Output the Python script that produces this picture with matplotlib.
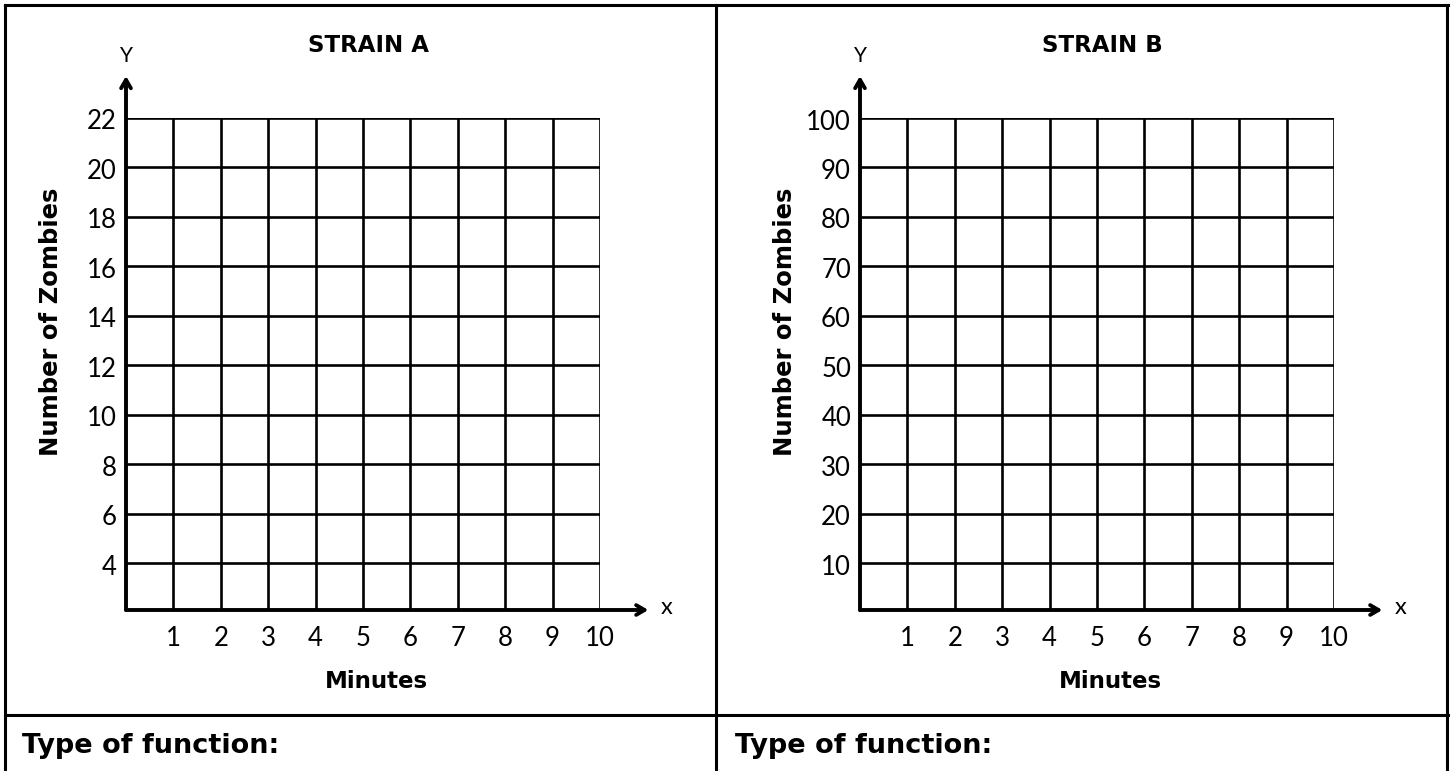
import matplotlib
matplotlib.use("Agg")
import matplotlib.pyplot as plt
from matplotlib.lines import Line2D

# ---- data ----
minutes = [1, 2, 3, 4, 5, 6, 7, 8, 9, 10]
strain_a_yticks = [4, 6, 8, 10, 12, 14, 16, 18, 20, 22]
strain_b_yticks = [10, 20, 30, 40, 50, 60, 70, 80, 90, 100]
panel_titles = ["STRAIN A", "STRAIN B"]
y_label = "Number of Zombies"
x_label = "Minutes"
bottom_text = "Type of function:"

W, H = 1455, 771
fig = plt.figure(figsize=(W / 100, H / 100), dpi=100)
NUMFONT = "Lato"
BOLDFONT = "DejaVu Sans"

def fx(px):
    return px / W

def fy(py):
    return 1 - py / H

# ---- outer table frame ----
frame_lw = 2.2
for (x0, y0, x1, y1) in [(5, 5, 1448, 5), (5, 5, 5, 771), (1447, 5, 1447, 771),
                         (716, 5, 716, 771), (5, 715, 1448, 715)]:
    fig.add_artist(Line2D([fx(x0), fx(x1)], [fy(y0), fy(y1)], color="black",
                          lw=frame_lw, transform=fig.transFigure))

def panel(left_px, yticks, ybottom, title):
    top_px, bot_px, right_px = 118, 610, left_px + 474
    ax = fig.add_axes([fx(left_px), fy(bot_px), fx(right_px - left_px),
                       (bot_px - top_px) / H])
    ax.set_xlim(0, 10)
    ax.set_ylim(ybottom, yticks[-1])
    for s in ax.spines.values():
        s.set_visible(False)
    ax.set_xticks([])
    ax.set_yticks([])
    # grid
    for yv in yticks:
        ax.plot([0, 10], [yv, yv], color="black", lw=1.9, solid_capstyle="butt")
    for xv in minutes:
        ax.plot([xv, xv], [ybottom, yticks[-1]], color="black", lw=1.9,
                solid_capstyle="butt")
    # axes with arrows
    ax.annotate("", xy=(11.02, ybottom), xytext=(0, ybottom),
                annotation_clip=False,
                arrowprops=dict(arrowstyle="->,head_length=0.6,head_width=0.35",
                                lw=2.8, color="black", shrinkA=0, shrinkB=0))
    ytop_arrow = yticks[-1] + (yticks[-1] - ybottom) * 42 / 492
    ax.annotate("", xy=(0, ytop_arrow), xytext=(0, ybottom),
                annotation_clip=False,
                arrowprops=dict(arrowstyle="->,head_length=0.6,head_width=0.35",
                                lw=2.8, color="black", shrinkA=0, shrinkB=0))
    # tick labels
    for xv in minutes:
        ax.annotate(str(xv), xy=(xv, ybottom), xytext=(0, -29),
                    textcoords="offset pixels", ha="center", va="center",
                    fontsize=18.5, family=NUMFONT,
                    annotation_clip=False)
    for yv in yticks:
        ax.annotate(str(yv), xy=(0, yv), xytext=(-9, -4),
                    textcoords="offset pixels", ha="right", va="center",
                    fontsize=18.5, family=NUMFONT,
                    annotation_clip=False)
    # axis letters
    ax.annotate("Y", xy=(0, yticks[-1]), xytext=(0, 62), textcoords="offset pixels",
                ha="center", va="center", fontsize=15, family=NUMFONT,
                annotation_clip=False)
    ax.annotate("x", xy=(10, ybottom), xytext=(67, 2), textcoords="offset pixels",
                ha="center", va="center", fontsize=17, family=NUMFONT,
                annotation_clip=False)
    # titles / labels
    fig.text(fx(left_px + 242), fy(45), title, ha="center", va="center",
             fontsize=16.5, family=BOLDFONT, fontweight="bold")
    fig.text(fx(left_px + 250), fy(682), x_label, ha="center", va="center",
             fontsize=16.5, family=BOLDFONT, fontweight="bold")
    fig.text(fx(left_px - 75), fy(322), y_label, ha="center", va="center",
             rotation=90, fontsize=17.5, family=BOLDFONT, fontweight="bold")
    return ax

panel(126, strain_a_yticks, 2.1, panel_titles[0])
panel(860, strain_b_yticks, 0.5, panel_titles[1])

fig.text(fx(22), fy(746), bottom_text, ha="left", va="center", fontsize=19.5,
         family=BOLDFONT, fontweight="bold")
fig.text(fx(735), fy(746), bottom_text, ha="left", va="center", fontsize=19.5,
         family=BOLDFONT, fontweight="bold")

fig.savefig("out.png", dpi=100)
